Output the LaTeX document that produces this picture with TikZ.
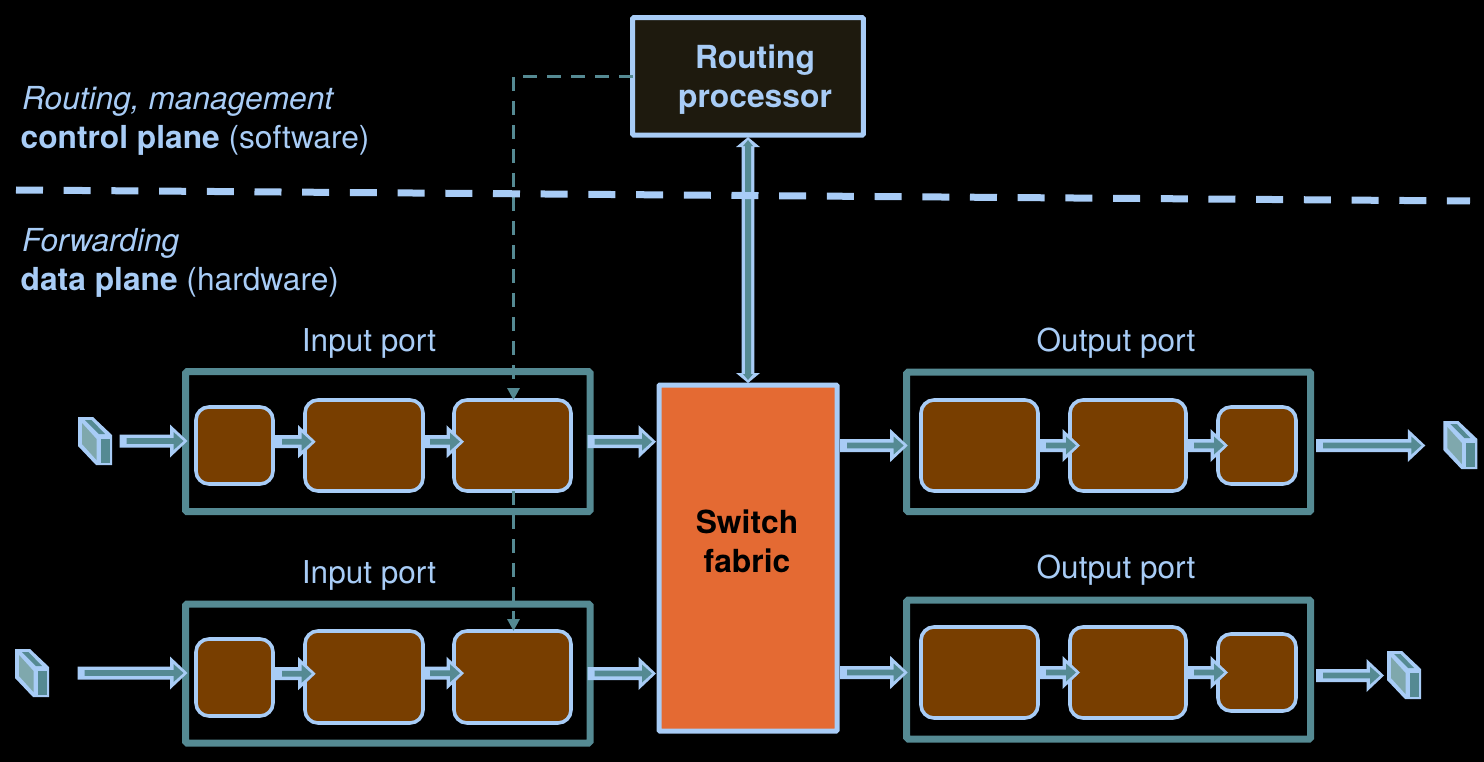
\documentclass[tikz,border=0pt]{standalone}
\usepackage{fontspec}
\setmainfont{TeX Gyre Heros}
\usetikzlibrary{calc,arrows.meta}
\definecolor{lb}{HTML}{A8CCF6}
\definecolor{tl}{HTML}{558A93}
\definecolor{tll}{HTML}{7FA8AD}
\definecolor{brn}{HTML}{783E00}
\definecolor{org}{HTML}{E46A33}
\definecolor{dk}{HTML}{1E1A0E}
\tikzset{
  brownbox/.style={draw=lb,fill=brn,line width=3.6pt,rounded corners=13pt,outer sep=0pt,inner sep=0pt},
  frame/.style={draw=tl,line width=7pt,rounded corners=1.5pt,outer sep=0pt,inner sep=0pt},
  plainbox/.style={draw=lb,line width=5pt,rounded corners=1pt,outer sep=0pt,align=center,inner sep=0pt},
  heading/.style={text=lb,font=\fontsize{31.5}{31.5}\selectfont,anchor=base,inner sep=0pt},
  sidetext/.style={text=lb,font=\fontsize{31.7}{31.7}\selectfont,anchor=base west,inner sep=0pt},
  boldtext/.style={font=\fontsize{31.8}{39}\selectfont\bfseries,align=center,inner sep=0pt},
  ctrl/.style={draw=tl,line width=3.6pt,dash pattern=on 14pt off 10pt,-{Triangle[length=12pt,width=12pt]}},
  planeline/.style={draw=lb,line width=7pt,dash pattern=on 27pt off 20.7pt}
}
\newcommand\barrow[2]{%
  \fill[lb] let \p1=(#1),\p2=(#2) in
    (\x1,{\y1+6.5pt}) -- ({\x2-17.5pt},{\y1+6.5pt}) -- ({\x2-17.5pt},{\y1+16.5pt}) -- (\x2,\y1)
    -- ({\x2-17.5pt},{\y1-16.5pt}) -- ({\x2-17.5pt},{\y1-6.5pt}) -- (\x1,{\y1-6.5pt}) -- cycle;
  \fill[tl] let \p1=(#1),\p2=(#2) in
    ({\x1+7pt},{\y1+2.8pt}) -- ({\x2-14pt},{\y1+2.8pt}) -- ({\x2-14pt},{\y1+9pt}) -- ({\x2-4pt},\y1)
    -- ({\x2-14pt},{\y1-9pt}) -- ({\x2-14pt},{\y1-2.8pt}) -- ({\x1+7pt},{\y1-2.8pt}) -- cycle;
}
\newcommand\vbarrow[2]{%
  \fill[lb] let \p1=(#1),\p2=(#2) in
    (\x1,\y1) -- ({\x1+12pt},{\y1-10pt}) -- ({\x1+6.3pt},{\y1-10pt}) -- ({\x1+6.3pt},{\y2+10pt}) -- ({\x1+12pt},{\y2+10pt})
    -- (\x1,\y2) -- ({\x1-12pt},{\y2+10pt}) -- ({\x1-6.3pt},{\y2+10pt}) -- ({\x1-6.3pt},{\y1-10pt}) -- ({\x1-12pt},{\y1-10pt}) -- cycle;
  \fill[tl] let \p1=(#1),\p2=(#2) in
    (\x1,{\y1-3pt}) -- ({\x1+5pt},{\y1-9pt}) -- ({\x1+3pt},{\y1-9pt}) -- ({\x1+3pt},{\y2+9pt}) -- ({\x1+5pt},{\y2+9pt})
    -- (\x1,{\y2+3pt}) -- ({\x1-5pt},{\y2+9pt}) -- ({\x1-3pt},{\y2+9pt}) -- ({\x1-3pt},{\y1-9pt}) -- ({\x1-5pt},{\y1-9pt}) -- cycle;
}
\newcommand\packet[3]{%
  \begin{scope}[shift={(#2,#3)}]
    \coordinate (#1) at (17,24);
    \fill[lb] (0,0) -- (15,0) -- (34,18) -- (34,48) -- (18,48) -- (0,29) -- cycle;
    \fill[tll] (4,6) -- (18.5,22) -- (18.5,43) -- (4,27) -- cycle;
    \fill[tl] (22.5,22) -- (31.5,22) -- (31.5,45.5) -- (22.5,45.5) -- cycle;
    \fill[tl] (7,3) -- (13.5,3) -- (27,17) -- (21,17) -- cycle;
  \end{scope}
}
\begin{document}
\begin{tikzpicture}[x=1pt,y=-1pt]
\fill[black] (0,0) rectangle (1484,762);
\useasboundingbox (0,0) rectangle (1484,762);

% port frames
\node[frame,minimum width=404.5pt,minimum height=140pt] (p1) at (387.75,441.7) {};
\node[frame,minimum width=404.5pt,minimum height=139pt] (p2) at (387.75,673.5) {};
\node[frame,minimum width=404pt,minimum height=139.7pt] (o1) at (1108.7,441.85) {};
\node[frame,minimum width=404pt,minimum height=139pt] (o2) at (1108.7,669.5) {};

% stage boxes
\node[brownbox,minimum width=77pt,minimum height=77pt] (a1) at (234.5,445.5) {};
\node[brownbox,minimum width=118pt,minimum height=91pt] (b1) at (364,445.5) {};
\node[brownbox,minimum width=117pt,minimum height=91pt] (c1) at (512.5,445.5) {};
\node[brownbox,minimum width=77pt,minimum height=77pt] (a2) at (234.5,677.5) {};
\node[brownbox,minimum width=118pt,minimum height=92pt] (b2) at (364,677) {};
\node[brownbox,minimum width=117pt,minimum height=92pt] (c2) at (512.5,677) {};
\node[brownbox,minimum width=117pt,minimum height=91pt] (d1) at (979.5,445.5) {};
\node[brownbox,minimum width=116pt,minimum height=91pt] (e1) at (1128,445.5) {};
\node[brownbox,minimum width=78pt,minimum height=77pt] (f1) at (1257,445.5) {};
\node[brownbox,minimum width=117pt,minimum height=91pt] (d2) at (979.5,672.5) {};
\node[brownbox,minimum width=116pt,minimum height=91pt] (e2) at (1128,672.5) {};
\node[brownbox,minimum width=78pt,minimum height=77pt] (f2) at (1257,672.5) {};

% main boxes
\node[plainbox,fill=org,minimum width=178pt,minimum height=346pt] (sf) at (748,558) {};
\node[plainbox,fill=dk,minimum width=230.6pt,minimum height=117.3pt] (rp) at (748,76.4) {};
\node[boldtext,text=black,anchor=center] (sft) at (747,541) {Switch\\fabric};
\node[boldtext,text=lb,anchor=center] (rpt) at (755,80) {Routing\\processor};

% packets
\packet{pk1}{78}{417}
\packet{pk2}{15}{649}
\packet{pk3}{1443.3}{421}
\packet{pk4}{1387}{651}

% block arrows
\barrow{$(pk1)+(24.5,0)$}{$(p1.west)+(2,0)$}
\barrow{$(a1.east)+(2,-3.8)$}{$(b1.west)+(10.7,0)$}
\barrow{$(b1.east)+(0,-3.8)$}{$(c1.west)+(10,0)$}
\barrow{$(p1.east)+(-2.5,0)$}{$(sf.west)+(-3,0)$}
\barrow{$(pk2)+(45.7,0)$}{$(p2.west)+(2,0)$}
\barrow{$(a2.east)+(2,-3.8)$}{$(b2.west)+(10.7,0)$}
\barrow{$(b2.east)+(0,-3.8)$}{$(c2.west)+(10,0)$}
\barrow{$(p2.east)+(-2.5,0)$}{$(sf.west)+(-3,0)$}
\barrow{$(sf.east |- d1.west)+(3,0)$}{$(o1.west)+(1,0)$}
\barrow{$(d1.east)+(1,0)$}{$(e1.west)+(10,0)$}
\barrow{$(e1.east)+(1,0)$}{$(f1.west)+(10,0)$}
\barrow{$(o1.east |- f1.east)+(5.5,0)$}{$(pk3)+(-35,0)$}
\barrow{$(sf.east |- d2.west)+(3,0)$}{$(o2.west)+(1,0)$}
\barrow{$(d2.east)+(1,0)$}{$(e2.west)+(10,0)$}
\barrow{$(e2.east)+(1,0)$}{$(f2.west)+(10,0)$}
\barrow{$(o2.east |- f2.east)+(5.5,3)$}{$(pk4)+(-20,0)$}
\vbarrow{$(rp.south)+(0,2)$}{$(sf.north)+(0,-2)$}

% control connectors
\coordinate (ctop) at ($(c1.north)+(1,0)$);
\coordinate (cbot) at ($(c1.south)+(1,0)$);
\coordinate (cend) at ($(c2.north)+(1,0)$);
\draw[ctrl] (rp.west) -- (rp.west -| ctop) -- (ctop);
\draw[ctrl] (cbot) -- (cend);

% plane separator
\coordinate (sepl) at (16,190);
\coordinate (sepr) at (1470,201);
\draw[planeline] (sepl) -- (sepr);

% labels
\node[sidetext] (t1) at (22,110) {\itshape Routing, management};
\node[sidetext] (t2) at (20.5,149) {\bfseries control plane \mdseries (software)};
\node[sidetext] (t3) at (22,252) {\itshape Forwarding};
\node[sidetext] (t4) at (20.5,290.5) {\bfseries data plane \mdseries (hardware)};
\node[heading] (l1) at (369,351) {Input port};
\node[heading] (l2) at (369,583) {Input port};
\node[heading] (l3) at (1116,351) {Output port};
\node[heading] (l4) at (1116,578) {Output port};
\end{tikzpicture}
\end{document}
